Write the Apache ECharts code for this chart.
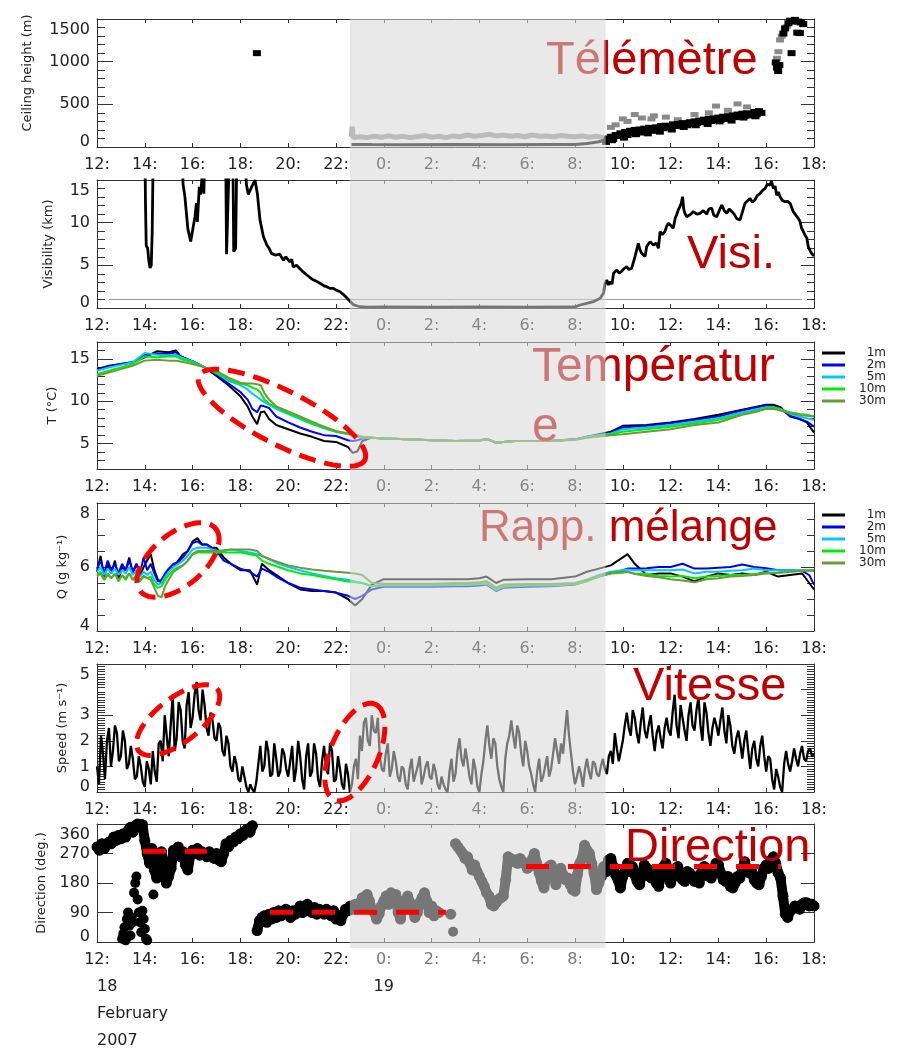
<!DOCTYPE html>
<html><head><meta charset="utf-8">
<script src="https://cdn.jsdelivr.net/npm/echarts@6/dist/echarts.min.js"></script>
<style>html,body{margin:0;padding:0;background:#fff}#c{width:898px;height:1054px}</style>
</head><body><div id="c"></div>
<script>
// ---------------- DATA (hours since 18 Feb 2007 00:00) ----------------
const xTickLabels = ['12:','14:','16:','18:','20:','22:','0:','2:','4:','6:','8:','10:','12:','14:','16:','18:'];
const dateTickLabels = {12: '18\nFebruary\n2007', 24: '19'};
const fogPeriod = [22.58, 33.28];

const ceilTicks = [0, 500, 1000, 1500];
const visTicks = [0, 5, 10, 15];
const tTicks = [5, 10, 15];
const qTicks = [4, 6, 8];
const speedTicks = [0, 1, 2, 3, 4, 5];
const dirTicks = [0, 90, 180, 270, 360];
const levelNames = ['1m', '2m', '5m', '10m', '30m'];

// Ceiling height (m)
const ceilDarkBand = [[22.65,30],[23.5,28],[25,27],[27,28],[29,27],[31,29],[32,30],[32.5,42],[33,62],[33.28,85]];
const ceilLightBand = [[22.65,120],[22.68,240],[22.72,110],[23.0,120],[23.3,110],[23.6,125],[23.9,115],[24.2,130],[24.5,115],[24.8,125],[25.1,110],[25.4,120],[25.7,135],[26.0,115],[26.3,125],[26.6,110],[26.9,130],[27.2,120],[27.5,140],[27.8,125],[28.1,135],[28.4,150],[28.7,130],[29.0,140],[29.3,125],[29.6,135],[29.9,120],[30.2,140],[30.5,125],[30.8,130],[31.1,120],[31.4,135],[31.7,125],[32.0,120],[32.3,130],[32.6,115],[32.9,125],[33.2,110]];
const ceilDaytime = [[33.3,60],[33.35,90],[33.4,100],[33.5,120],[33.55,80],[33.6,95],[33.7,140],[33.8,130],[33.9,160],[34.0,150],[34.05,110],[34.1,175],[34.2,140],[34.3,190],[34.4,165],[34.5,200],[34.55,150],[34.6,180],[34.7,205],[34.8,170],[34.9,215],[35.0,195],[35.05,160],[35.1,225],[35.2,200],[35.3,190],[35.4,230],[35.5,215],[35.55,180],[35.6,245],[35.7,220],[35.8,250],[35.9,230],[36.0,240],[36.05,205],[36.1,265],[36.2,245],[36.3,270],[36.4,250],[36.5,280],[36.55,235],[36.6,260],[36.7,255],[36.8,290],[36.9,270],[37.0,300],[37.05,255],[37.1,280],[37.2,310],[37.3,290],[37.4,320],[37.5,300],[37.55,270],[37.6,330],[37.7,305],[37.8,335],[37.9,315],[38.0,345],[38.05,300],[38.1,320],[38.2,355],[38.3,330],[38.4,360],[38.5,340],[38.55,310],[38.6,370],[38.7,350],[38.8,380],[38.9,355],[39.0,390],[39.05,345],[39.1,365],[39.2,395],[39.3,370],[39.4,380],[39.5,410],[39.55,360],[39.6,385],[39.7,420],[39.8,400]];
const ceilBlackOther = [[18.69,1100],
 [40.4,990],[40.45,930],[40.5,890],[40.55,960],[40.72,1330],[40.79,1390],[40.93,1450],[41.0,1480],[41.06,1100],[41.13,1470],[41.2,1490],[41.3,1340],[41.34,1470],[41.41,1335],[41.45,1460],[41.55,1440]];
const ceilGray = [[33.5,230],[33.7,260],[34.0,330],[34.2,300],[34.5,380],[34.8,340],[35.2,330],[35.3,365],[35.8,350],[36.3,320],[37.0,380],[37.6,400],[37.9,480],[38.4,430],[38.8,505],[39.2,470],
 [40.45,1040],[40.51,1117],[40.58,1254],[40.65,1300],[40.86,1410]];

// Visibility (km) ; values above 15 run off the top of the panel
const fogThreshold = 1;
const visRefSpan = [12.5, 41.5];
const visibility = [[12,20],[14.0,20],[14.03,12],[14.06,7.3],[14.12,7.0],[14.17,5.5],[14.22,4.7],[14.27,5.0],[14.31,9],[14.36,20],
 [15.55,20],[15.6,14.5],[15.68,13.0],[15.8,9.3],[15.92,7.8],[16.0,9.1],[16.1,10.7],[16.16,12.3],[16.2,10.1],[16.28,14.2],[16.33,13.3],[16.4,15.5],[16.47,13.4],[16.53,20],
 [17.38,20],[17.42,6.3],[17.5,6.2],[17.56,20],[17.68,20],[17.72,6.6],[17.8,7.0],[17.86,20],
 [18.15,20],[18.25,14.5],[18.33,13.3],[18.47,14.2],[18.61,15.0],[18.71,13.4],[18.82,10.3],[18.96,8.4],[19.1,7.4],[19.2,7.0],[19.3,6.4],[19.45,6.2],[19.52,6.0],[19.65,6.3],[19.8,5.6],[19.9,6.0],[20.07,5.4],[20.15,5.7],[20.21,4.8],[20.35,5.0],[20.49,4.6],[20.6,4.3],[20.77,3.9],[20.9,3.6],[21.05,3.3],[21.2,3.1],[21.33,2.9],[21.5,2.6],[21.61,2.5],[21.75,2.3],[21.89,2.3],[22.0,2.1],[22.17,1.9],[22.3,1.6],[22.45,1.2],[22.58,0.8],[22.72,0.4],[22.93,0.2],[23.28,0.1],
 [24,0.12],[26,0.1],[28,0.12],[30,0.1],[32.0,0.12],[32.21,0.35],[32.49,0.55],[32.77,0.74],[33.05,1.13],[33.19,1.72],[33.26,2.89],[33.33,3.28],[33.4,2.7],[33.47,3.1],[33.55,2.8],[33.61,4.06],[33.75,4.45],[33.85,4.1],[33.95,4.3],[34.05,4.6],[34.16,4.84],[34.26,4.5],[34.37,4.65],[34.51,6.02],[34.65,7.58],[34.72,6.8],[34.79,6.41],[34.93,6.02],[35.0,7.2],[35.14,7.77],[35.28,7.38],[35.4,7.6],[35.49,7.0],[35.56,8.95],[35.65,8.6],[35.76,8.95],[35.84,9.6],[35.91,9.92],[36.0,9.7],[36.11,9.34],[36.2,10.6],[36.25,10.9],[36.32,11.5],[36.39,11.88],[36.45,12.3],[36.5,13.05],[36.55,11.6],[36.6,11.1],[36.67,10.7],[36.74,10.5],[36.85,11.0],[36.95,11.3],[37.1,11.0],[37.23,11.1],[37.37,11.4],[37.51,11.0],[37.6,11.6],[37.72,11.7],[37.8,10.9],[37.93,10.7],[38.05,11.5],[38.14,12.07],[38.25,11.4],[38.35,11.1],[38.45,11.6],[38.56,11.3],[38.66,11.0],[38.76,10.5],[38.9,10.3],[39.0,11.2],[39.11,12.27],[39.2,12.5],[39.32,12.85],[39.42,12.4],[39.53,12.66],[39.63,13.2],[39.74,13.4],[39.85,13.8],[39.95,14.0],[40.05,14.5],[40.16,14.4],[40.22,14.9],[40.3,14.0],[40.37,14.3],[40.44,13.2],[40.51,13.6],[40.58,13.05],[40.68,12.6],[40.79,12.46],[40.9,12.5],[41.0,12.27],[41.13,11.3],[41.2,11.5],[41.34,10.5],[41.41,10.2],[41.48,9.34],[41.55,9.0],[41.62,8.56],[41.7,8.2],[41.76,7.2],[41.84,6.7],[41.9,6.4],[42.0,6.1]];

// Temperature (°C)
const tTimes = [12,12.5,13,13.5,14,14.5,15,15.3,15.5,16,16.5,17,17.5,18,18.3,18.5,18.7,18.85,19,19.2,19.5,20,20.5,21,21.5,22,22.5,22.7,22.9,23.1,23.5,24,25,26,27,27.5,28,28.3,28.7,29,29.5,30,31,32,32.5,33,33.5,34,35,36,37,38,39,39.5,40,40.3,40.6,41,41.4,41.7,42];
const t1m = [13.8,14.2,14.4,14.6,15.2,15.9,15.8,16.0,15.3,14.7,14.0,13.0,11.9,10.6,9.4,8.2,7.3,8.7,8.8,7.9,7.2,6.7,6.2,5.8,5.3,5.2,4.6,3.9,4.1,5.3,5.7,5.6,5.5,5.4,5.3,5.35,5.35,5.55,5.1,5.2,5.3,5.3,5.3,5.5,5.8,6.1,6.4,7.1,7.2,7.5,7.9,8.4,9.0,9.3,9.6,9.6,9.3,8.2,7.9,7.5,6.3];
const t2m = [13.7,14.1,14.4,14.6,15.5,15.6,15.6,15.8,15.3,14.7,14.0,13.2,12.1,11.1,10.2,9.1,8.7,9.5,9.4,9.2,8.2,7.5,6.9,6.4,6.0,5.9,5.4,5.3,5.4,5.6,5.7,5.6,5.5,5.4,5.3,5.35,5.35,5.55,5.1,5.2,5.3,5.3,5.3,5.5,5.8,6.0,6.3,6.9,7.1,7.4,7.8,8.2,8.9,9.2,9.5,9.4,9.1,8.3,7.9,7.6,7.0];
const t5m = [13.6,14.0,14.3,14.6,15.7,15.5,15.4,15.5,15.2,14.7,14.0,13.3,12.4,11.9,11.4,10.9,10.5,10.2,9.9,9.6,9.1,8.5,7.9,7.3,6.8,6.4,6.1,6.0,5.8,5.7,5.7,5.6,5.5,5.4,5.3,5.35,5.35,5.55,5.1,5.2,5.3,5.3,5.3,5.5,5.8,6.0,6.2,6.7,6.9,7.2,7.6,8.0,8.7,9.0,9.3,9.3,9.1,8.5,8.2,8.0,7.8];
const t10m = [13.2,13.6,14.0,14.4,15.3,15.2,15.3,15.3,15.0,14.6,14.0,13.4,12.6,12.1,11.9,11.6,11.4,11.0,10.2,9.7,9.3,8.6,8.0,7.4,6.9,6.4,6.2,6.1,6.0,5.8,5.7,5.6,5.5,5.4,5.3,5.35,5.35,5.55,5.1,5.2,5.3,5.3,5.3,5.45,5.75,5.9,6.1,6.4,6.7,7.0,7.4,7.8,8.5,8.8,9.2,9.3,9.0,8.7,8.5,8.4,8.2];
const t30m = [13.0,13.4,13.8,14.2,14.8,14.9,14.8,14.8,14.7,14.4,14.0,13.6,12.8,12.2,12.1,12.1,12.0,11.9,11.0,10.2,9.4,8.8,8.2,7.6,7.0,6.5,6.2,6.1,6.0,5.8,5.7,5.6,5.5,5.4,5.3,5.35,5.35,5.55,5.1,5.2,5.3,5.3,5.3,5.45,5.7,5.85,6.0,6.1,6.4,6.7,7.2,7.5,8.4,8.7,9.1,9.1,8.9,8.6,8.4,8.3,8.2];

// Mixing ratio Q (g/kg)
const qTimes = [12,12.15,12.3,12.45,12.6,12.75,12.9,13.05,13.2,13.35,13.5,13.65,13.8,13.95,14.1,14.25,14.4,14.55,14.7,14.85,15,15.2,15.4,15.6,15.8,16,16.2,16.4,16.6,16.8,17,17.3,17.6,18,18.4,18.7,18.9,19.2,19.6,20,20.5,21,21.5,22,22.5,22.8,23.1,23.5,24,25,26,27,27.5,28,28.3,28.7,29,30,31,32,32.5,33,33.5,34,34.2,34.5,35,35.5,36,36.5,37,37.5,38,38.5,39,39.5,40,40.5,41,41.5,41.8,42];
const q1m = [5.85,6.35,5.7,6.1,5.8,6.2,5.6,6.0,5.9,6.3,5.8,6.1,5.7,6.0,6.2,6.4,5.9,5.6,5.5,5.7, 5.9,6.0,6.2,6.4,6.5, 6.8,6.9,6.7,6.7,6.6, 6.6,6.3,6.1, 5.9,5.9,5.45,6.1, 5.9,5.7, 5.5,5.3,5.25,5.25,5.2,5.0,4.8,5.0,5.45, 5.62,5.62,5.62,5.62,5.62,5.65,5.7,5.5,5.6, 5.62,5.62,5.7,5.85,5.95,6.05, 6.3,6.4,6.1, 5.75,5.8,5.8,5.7,5.55,5.7,5.8,5.75,5.8,5.75,5.85,5.7,5.75,5.8,5.5,5.3];
const q2m = [5.95,6.2,5.8,6.2,5.9,6.1,5.8,6.1,5.9,6.2,5.85,6.1,5.8,6.3,5.9,6.1,5.8,5.55,5.6,5.8, 5.95,6.1,6.15,6.3,6.5, 6.75,6.8,6.7,6.7,6.6, 6.5,6.2,6.1, 5.95,5.85,5.7,5.95, 5.85,5.65, 5.5,5.35,5.3,5.25,5.2,5.1,5.0,5.1,5.3, 5.38,5.38,5.38,5.4,5.4,5.42,5.45,5.25,5.35, 5.38,5.4,5.45,5.57,5.7,5.8, 5.9,5.95,5.95, 5.96,6.0,6.0,6.1,5.95,5.95,5.98,6.0,6.08,6.0,5.96,5.9,5.9,5.88,5.75,5.45];
const q5m = [5.85,6.0,5.75,5.95,5.8,5.95,5.75,5.9,5.8,6.0,5.75,5.9,5.7,5.85,5.75,5.85,5.6,5.45,5.5,5.7, 5.85,6.0,6.1,6.2,6.35, 6.55,6.6,6.6,6.6,6.55, 6.5,6.5,6.55, 6.5,6.45,6.4,6.35, 6.25,6.1, 6.0,5.9,5.8,5.72,5.65,5.6,5.55,5.5,5.4, 5.42,5.42,5.42,5.44,5.44,5.46,5.48,5.28,5.38, 5.42,5.42,5.47,5.6,5.75,5.85, 5.9,5.92,5.9, 5.9,5.9,5.9,5.92,5.8,5.85,5.85,5.88,5.9,5.95,5.9,5.9,5.9,5.9,5.9,5.88];
const q10m = [5.75,5.85,5.6,5.8,5.65,5.8,5.55,5.75,5.6,5.8,5.6,5.75,5.55,5.7,5.65,5.7,5.45,5.35,5.4,5.6, 5.75,5.9,6.0,6.05,6.2, 6.4,6.45,6.45,6.45,6.45, 6.45,6.45,6.45, 6.45,6.4,6.35,6.2, 6.1,6.0, 5.9,5.8,5.75,5.68,5.62,5.55,5.52,5.5,5.4, 5.44,5.44,5.44,5.46,5.46,5.48,5.5,5.32,5.4, 5.44,5.44,5.47,5.55,5.7,5.8, 5.82,5.85,5.8, 5.78,5.72,5.7,5.72,5.65,5.7,5.72,5.75,5.75,5.78,5.82,5.82,5.85,5.88,5.9,5.9];
const q30m = [5.7,5.8,5.6,5.75,5.65,5.78,5.6,5.72,5.65,5.8,5.6,5.7,5.6,5.72,5.65,5.6,5.35,5.1,5.05,5.4, 5.6,5.85,5.95,6.05,6.2, 6.4,6.5,6.5,6.5,6.5, 6.5,6.52,6.55, 6.55,6.55,6.5,6.35, 6.25,6.15, 6.05,5.98,5.92,5.88,5.85,5.82,5.8,5.75,5.5, 5.48,5.48,5.48,5.5,5.5,5.52,5.56,5.36,5.45, 5.47,5.47,5.5,5.6,5.72,5.82, 5.85,5.85,5.78, 5.72,5.68,5.62,5.58,5.52,5.62,5.65,5.7,5.72,5.75,5.8,5.82,5.85,5.88,5.88,5.88];

// Wind speed (m/s): values on the 10-min marks from 12:00, and the 5-min values between them
const speedStart = 12, speedStep = 1 / 6;
const speed = [
 1.0,2.2,0.5,2.5,1.6,2.3, 1.4,2.0,1.1,1.3,0.6,1.0, 0.2,0.9,1.6,0.4,2.0,3.0, 1.4,3.8,2.1,3.2,1.7,3.9,
 2.9,4.3,2.8,3.4,2.2,2.8, 2.0,2.5,1.4,1.9,0.8,1.1, 0.4,0.6,0.0,0.1,0.4,1.8, 1.0,1.6,0.7,1.3,0.8,1.5,
 0.6,1.8,0.9,1.4,0.1,1.9, 0.8,1.5,0.2,1.8,0.7,1.6, 0.5,0.9,0.1,0.7,0.3,1.3, 2.2,2.7,2.0,3.0,2.3,1.4,
 0.8,1.9,0.9,1.2,0.4,0.9, 0.1,1.3,0.7,1.4,0.6,1.2, 0.5,0.8,0.1,0.3,0.0,1.3, 0.7,2.1,1.0,1.2,0.3,0.9,
 0.0,1.2,2.6,1.3,1.9,0.5, 0.0,1.9,2.8,1.7,2.3,1.0, 1.6,0.7,0.0,1.3,0.6,1.4, 0.9,2.1,1.1,1.5,3.2,1.5,
 0.3,1.0,0.2,1.3,0.5,1.1, 0.6,1.3,0.7,1.6,2.3,1.2, 2.0,3.1,2.2,2.9,1.9,3.3, 2.1,3.0,1.6,2.6,1.7,2.9,
 2.2,3.8,2.1,2.9,2.0,3.5, 2.4,3.7,2.0,3.1,1.8,2.9, 2.2,3.3,1.9,2.6,1.5,2.4, 1.3,2.4,0.9,2.0,1.0,2.2,
 0.8,1.3,0.1,0.6,0.0,1.6, 0.8,1.7,1.0,1.8,1.2,1.7, 1.5];
const speedMid = [
 0.3,1.5,2.0,1.0,2.6,1.2, 2.4,0.9,1.8,0.5,1.4,0.4, 1.2,0.3,0.8,1.9,1.2,2.2, 2.6,1.6,3.5,2.0,3.4,2.5,
 3.8,3.2,4.0,2.5,3.1,2.1, 2.7,1.6,2.2,1.0,1.4,0.5, 1.0,0.2,0.3,0.0,1.1,0.8, 2.0,0.6,1.9,0.6,1.7,0.9,
 1.2,0.4,2.0,0.5,1.4,0.6, 1.9,0.5,1.2,0.9,1.9,0.4, 1.4,0.3,1.1,0.0,1.0,0.5, 1.6,2.9,1.8,2.4,2.9,0.9,
 1.5,0.6,1.6,0.6,1.0,0.3, 0.9,0.4,1.0,0.3,1.0,0.6, 1.1,0.3,0.6,0.1,0.8,0.4, 1.6,1.3,1.7,0.6,1.3,0.2,
 0.7,2.0,1.8,2.1,1.0,0.2, 1.3,2.2,2.2,2.6,1.5,2.0, 1.0,0.3,0.8,0.4,1.0,0.6, 1.5,1.6,1.9,2.4,2.2,0.8,
 0.6,0.7,0.9,0.8,1.2,0.7, 1.0,0.9,1.4,1.1,1.7,1.6, 2.6,2.5,3.2,2.3,2.7,2.4, 2.6,2.2,2.3,2.1,2.5,2.4,
 3.1,2.6,3.4,2.4,3.0,2.6, 3.2,2.6,3.5,2.3,2.5,2.6, 2.8,2.4,3.0,1.8,2.1,1.9, 2.0,1.6,1.7,1.3,1.8,1.4,
 1.4,0.5,0.9,0.2,1.1,1.1, 1.2,1.3,1.5,1.3,1.6,1.4];

// Wind direction (deg), every 6 min from 12:00
const dirStart = 12, dirStep = 0.1;
const direction = [
 290,280,300,285,295,305,300,320,310,325,
 315,330,320,340,350,335,355,360,362,358,
 310,270,240,285,220,195,250,275,230,180,
 200,225,280,265,290,260,275,235,220,265,
 280,270,285,265,275,270,260,275,265,255,
 270,250,245,270,300,290,310,305,320,315,
 330,325,340,345,335,355,null,35,65,75,
 80,60,85,70,90,75,95,80,85,100,
 90,75,95,85,100,110,90,95,115,100,
 90,105,85,100,95,85,100,90,80,95,
 70,80,65,85,100,95,110,100,115,105,
 120,135,110,145,125,100,90,70,85,110,
 125,140,115,150,130,145,90,70,125,105,
 140,120,100,75,90,120,135,150,125,90,
 110,80,95,90,null,null,null,null,85,null,
 300,290,280,270,255,260,240,220,235,215,
 200,185,170,150,140,115,110,120,130,135,
 140,190,260,255,245,250,240,255,245,240,
 225,230,250,270,240,210,185,165,200,230,
 235,200,175,215,225,205,190,195,175,160,
 155,205,240,255,295,280,270,240,210,160,
 180,200,230,215,250,255,230,205,190,165,
 200,220,240,215,230,205,185,175,210,235,
 225,200,195,220,180,170,200,230,240,215,
 180,200,225,230,205,190,185,215,210,195,
 185,200,180,215,230,225,200,195,215,240,
 235,210,190,185,200,170,165,180,200,195,
 225,245,220,210,215,190,180,175,200,225,
 235,225,250,260,240,210,195,140,85,75,
 95,100,110,105,100,115,120,120,110,115,
 110];
const directionLowCluster = [[13.05,10],[13.1,25],[13.15,45],[13.2,5],[13.25,70],[13.3,90],[13.35,50],[13.4,20],[13.45,75],[13.5,60],[13.55,150],[13.6,180],[13.65,200],[13.7,130],[13.75,90],[13.8,60],[13.85,30],[13.9,95],[13.95,70],[14.0,40],[14.05,10],[14.1,5],[14.36,145],[26.9,31]];
// mean direction segments: [start, end, value]
const directionMeans = [[13.92,16.6,277],[19.24,26.6,91],[29.95,40.62,230]];

// annotation ellipse centres [hour, value]
const tEllipses = [[19.74, 8.05]];
const qEllipses = [[15.39, 6.22]];
const speedEllipses = [[15.39, 2.81],[22.79, 1.56]];

// ---------------- CHART ----------------
const FONT = 'DejaVu Sans';
const AX = '#333';
const levelColors = ['#000000','#0000ff','#00c8ff','#00ee00','#6b9a3a'];
const tSeries = [t1m, t2m, t5m, t10m, t30m];
const qSeries = [q1m, q2m, q5m, q10m, q30m];
const pairs = (ts, vs) => ts.map((t, i) => [t, vs[i]]);
const uniform = (start, step, vs) => vs.map((v, i) => [Math.round((start + i * step) * 1000) / 1000, v]);
const speedPoints = [];
speed.forEach((v, i) => {
  speedPoints.push([speedStart + i * speedStep, v]);
  if (i < speedMid.length) speedPoints.push([speedStart + (i + 0.5) * speedStep, speedMid[i]]);
});

const panels = [
  {top:19, height:128, min:0, max:1500, majors:ceilTicks, minorStep:100, name:'Ceiling height (m)', nameGap:63, namePad:[0,0,0,20]},
  {top:180, height:128, min:0, max:15, majors:visTicks, minorStep:1, name:'Visibility (km)', nameGap:42},
  {top:342, height:127, min:2, max:17, majors:tTicks, minorStep:1, name:'T (°C)', nameGap:38},
  {top:503, height:128, min:4, max:8, majors:qTicks, minorStep:0.5, name:'Q (g kg⁻¹)', nameGap:27},
  {top:664, height:128, min:0, max:5, majors:speedTicks, minorStep:0.1, name:'Speed (m s⁻¹)', nameGap:27},
  {top:824, height:124, min:0, max:360, majors:dirTicks, minorStep:null, name:'Direction (deg.)', nameGap:47}
];
function minorsOf(p) {
  if (!p.minorStep) return [];
  const out = [];
  for (let v = p.min + p.minorStep; v < p.max - 1e-9; v += p.minorStep) {
    const r = Math.round(v * 1000) / 1000;
    if (!p.majors.some(m => Math.abs(m - r) < 1e-6)) out.push(r);
  }
  return out;
}

const grid = panels.map(p => ({left:97, width:717, top:p.top, height:p.height}));
grid.push({left:97, width:717, top:19, height:929});

const labelStyle = {fontFamily: FONT, fontSize: 16, color: '#222'};
const xAxis = [];
panels.forEach((p, i) => {
  xAxis.push({
    gridIndex:i, type:'value', min:12, max:42, interval:2, position:'bottom',
    axisLine:{show:true, onZero:false, lineStyle:{color:AX, width:1}},
    axisTick:{show:true, inside:true, length:4, lineStyle:{color:AX}},
    axisLabel:Object.assign({}, labelStyle, {margin:10, showMinLabel:true, showMaxLabel:true,
      formatter: v => {
        const s = xTickLabels[Math.round((v - 12) / 2)];
        if (i === 5 && v >= 24 && v <= 32) return '{g|' + s + '}';
        return s;
      },
      rich:{g:{color:'#7a7a7a', fontFamily:FONT, fontSize:16}}}),
    splitLine:{show:false}
  });
  xAxis.push({
    gridIndex:i, type:'value', min:12, max:42, interval:2, position:'top',
    axisLine:{show:true, onZero:false, lineStyle:{color:AX, width:1}},
    axisTick:{show:true, inside:true, length:4, lineStyle:{color:AX}},
    axisLabel:{show:false}, splitLine:{show:false}
  });
});
// date row under the last panel
xAxis.push({
  gridIndex:5, type:'value', min:12, max:42, interval:12, position:'bottom',
  axisLine:{show:false, onZero:false}, axisTick:{show:false}, splitLine:{show:false},
  axisLabel:Object.assign({}, labelStyle, {margin:31, lineHeight:27, showMinLabel:true, showMaxLabel:false,
    alignMinLabel:'left', formatter: v => dateTickLabels[v] || ''})
});
// overlay axis
xAxis.push({gridIndex:6, type:'value', min:12, max:42, show:false});

const yAxis = [];
panels.forEach((p, i) => {
  const rich = {
    hi:{lineHeight:22, fontFamily:FONT, fontSize:16, color:'#222'},
    lo:{lineHeight:10, fontFamily:FONT, fontSize:16, color:'#222'},
    n:{fontFamily:FONT, fontSize:16, color:'#222'}
  };
  const minors = minorsOf(p);
  const base = {gridIndex:i, type:'value', min:p.min, max:p.max, splitLine:{show:false}};
  yAxis.push(Object.assign({}, base, {
    position:'left',
    axisLine:{show:true, onZero:false, lineStyle:{color:AX, width:1}},
    axisTick:{show:true, inside:true, length:16, customValues:p.majors, lineStyle:{color:AX}},
    axisLabel:{show:true, margin:7, customValues:p.majors, showMinLabel:true, showMaxLabel:true,
      formatter: v => v === p.max ? '{hi| }\n{hi|' + v + '}' : (v === p.min ? '{lo|' + v + '}\n{lo| }' : '{n|' + v + '}'),
      rich: rich},
    name:p.name, nameLocation:'middle', nameGap:p.nameGap,
    nameTextStyle:{fontFamily:FONT, fontSize:13, color:'#222', padding:p.namePad || 0}
  }));
  yAxis.push(Object.assign({}, base, {
    position:'left', axisLine:{show:false},
    axisTick:{show:minors.length > 0, inside:true, length:8, customValues:minors.length ? minors : [p.min], lineStyle:{color:AX}},
    axisLabel:{show:false}
  }));
  yAxis.push(Object.assign({}, base, {
    position:'right',
    axisLine:{show:true, onZero:false, lineStyle:{color:AX, width:1}},
    axisTick:{show:true, inside:true, length:13, customValues:p.majors, lineStyle:{color:AX}},
    axisLabel:{show:false}
  }));
  yAxis.push(Object.assign({}, base, {
    position:'right', axisLine:{show:false},
    axisTick:{show:minors.length > 0, inside:true, length:7, customValues:minors.length ? minors : [p.min], lineStyle:{color:AX}},
    axisLabel:{show:false}
  }));
});
yAxis.push({gridIndex:6, type:'value', min:0, max:1, show:false});

const ax = i => ({xAxisIndex:2 * i, yAxisIndex:4 * i});
const series = [];

// Ceiling
series.push(Object.assign({type:'line', name:'ceil-band2', data:ceilLightBand, showSymbol:false, lineStyle:{color:'#999', width:5}, silent:true}, ax(0)));
series.push(Object.assign({type:'line', name:'ceil-band1', data:ceilDarkBand, showSymbol:false, lineStyle:{color:'#000', width:3}, silent:true}, ax(0)));
series.push(Object.assign({type:'line', name:'ceil-day-trace', data:ceilDaytime, showSymbol:false, lineStyle:{color:'#000', width:5, join:'round'}, silent:true}, ax(0)));
series.push(Object.assign({type:'scatter', name:'ceil-gray', data:ceilGray, symbol:'rect', symbolSize:[8,5], itemStyle:{color:'#8a8a8a', opacity:1}}, ax(0)));
series.push(Object.assign({type:'scatter', name:'ceil-black', data:ceilDaytime.concat(ceilBlackOther), symbol:'rect', symbolSize:[8,6], itemStyle:{color:'#000', opacity:1}}, ax(0)));

// Visibility
series.push(Object.assign({type:'line', name:'fog', data:[[visRefSpan[0], fogThreshold],[visRefSpan[1], fogThreshold]], showSymbol:false, lineStyle:{color:'#999', width:1}, silent:true}, ax(1)));
series.push(Object.assign({type:'line', name:'vis', data:visibility, showSymbol:false, lineStyle:{color:'#000', width:2.8}, clip:true}, ax(1)));

// Temperature & Q
levelNames.forEach((n, k) => {
  series.push(Object.assign({type:'line', name:n, data:pairs(tTimes, tSeries[k]), showSymbol:false, lineStyle:{color:levelColors[k], width:2}, itemStyle:{color:levelColors[k]}}, ax(2)));
});
levelNames.forEach((n, k) => {
  series.push(Object.assign({type:'line', name:n, data:pairs(qTimes, qSeries[k]), showSymbol:false, lineStyle:{color:levelColors[k], width:2}, itemStyle:{color:levelColors[k]}}, ax(3)));
});

// Speed
series.push(Object.assign({type:'line', name:'speed', data:speedPoints, showSymbol:false, lineStyle:{color:'#000', width:2.3}}, ax(4)));

// Direction: thick trace joining the observations plus the observation dots
const dirPoints = uniform(dirStart, dirStep, direction);
series.push(Object.assign({type:'line', name:'dir-trace', data:dirPoints, showSymbol:false, connectNulls:false,
  lineStyle:{color:'#000', width:10, join:'round', cap:'round'}, silent:true}, ax(5)));
series.push(Object.assign({type:'scatter', name:'dir', data:dirPoints.filter(d => d[1] != null), symbol:'circle', symbolSize:11, itemStyle:{color:'#000', opacity:1}}, ax(5)));
series.push(Object.assign({type:'scatter', name:'dir2', data:directionLowCluster, symbol:'circle', symbolSize:10, itemStyle:{color:'#000', opacity:1}}, ax(5)));
directionMeans.forEach(seg => {
  series.push(Object.assign({type:'line', name:'mean', zlevel:2, data:[[seg[0], seg[2]],[seg[1], seg[2]]], showSymbol:false,
    lineStyle:{color:'#ff0000', width:5, type:[23,19], cap:'butt'}, silent:true}, ax(5)));
});

// Night (fog) shading, drawn over everything except the red annotations
series.push({type:'custom', name:'shade', xAxisIndex:13, yAxisIndex:24, zlevel:1, silent:true,
  data:[[fogPeriod[0], fogPeriod[1]]],
  renderItem:(params, api) => {
    const a = api.coord([api.value(0), 1]);
    const b = api.coord([api.value(1), 0]);
    return {type:'rect', shape:{x:a[0], y:a[1], width:b[0] - a[0], height:b[1] - a[1]}, style:{fill:'rgba(215,215,215,0.55)'}};
  }});

// Red dashed ellipses (annotation)
const ellipseShapes = {
  t: [{rx:93, ry:27, rot:27}],
  q: [{rx:49, ry:26, rot:-40}],
  s: [{rx:50, ry:22, rot:-38}, {rx:52, ry:24, rot:-67}]
};
function ellipseRenderer(shapes) {
  return (params, api) => {
    const c = api.coord([api.value(0), api.value(1)]);
    const s = shapes[params.dataIndex];
    const a = s.rot * Math.PI / 180, pts = [];
    for (let k = 0; k < 90; k++) {
      const th = k / 90 * 2 * Math.PI;
      const ex = s.rx * Math.cos(th), ey = s.ry * Math.sin(th);
      pts.push([c[0] + ex * Math.cos(a) - ey * Math.sin(a), c[1] + ex * Math.sin(a) + ey * Math.cos(a)]);
    }
    return {type:'polygon', shape:{points:pts}, style:{fill:'none', stroke:'#ff0000', lineWidth:5, lineDash:[17,9]}};
  };
}
series.push(Object.assign({type:'custom', name:'ell-t', zlevel:2, silent:true, data:tEllipses, renderItem:ellipseRenderer(ellipseShapes.t)}, ax(2)));
series.push(Object.assign({type:'custom', name:'ell-q', zlevel:2, silent:true, data:qEllipses, renderItem:ellipseRenderer(ellipseShapes.q)}, ax(3)));
series.push(Object.assign({type:'custom', name:'ell-s', zlevel:2, silent:true, data:speedEllipses, renderItem:ellipseRenderer(ellipseShapes.s)}, ax(4)));

const legendBase = {
  data:levelNames, orient:'vertical', left:822, padding:0, itemWidth:23, itemHeight:3, itemGap:0, icon:'rect',
  selectedMode:false, formatter: n => '{r|' + n + '}',
  textStyle:{rich:{r:{width:36, align:'right', fontSize:12, fontFamily:FONT, color:'#222', lineHeight:13}}}
};

const titleStyle = (t, size) => ({text:t, fill:'#c00000', fontSize:size, fontFamily:'"Liberation Sans", Arial, sans-serif', verticalAlign:'middle', align:'left'});
const graphic = [
  {type:'text', x:546, y:61, z:50, style:titleStyle('Télémètre', 47)},
  {type:'text', x:687, y:255, z:50, style:titleStyle('Visi.', 47)},
  {type:'text', x:532, y:368, z:50, style:titleStyle('Températur', 48)},
  {type:'text', x:532, y:428, z:50, style:titleStyle('e', 48)},
  {type:'text', x:479, y:529, z:50, style:titleStyle('Rapp. mélange', 44)},
  {type:'text', x:633, y:687, z:50, style:titleStyle('Vitesse', 47)},
  {type:'text', x:625, y:848, z:50, style:titleStyle('Direction', 47)}
];

const chart = echarts.init(document.getElementById('c'), null, {renderer:'canvas'});
chart.setOption({
  animation:false,
  backgroundColor:'#ffffff',
  grid, xAxis, yAxis, series,
  legend:[Object.assign({}, legendBase, {top:347}), Object.assign({}, legendBase, {top:509})],
  graphic:{elements:graphic}
});
</script></body></html>
